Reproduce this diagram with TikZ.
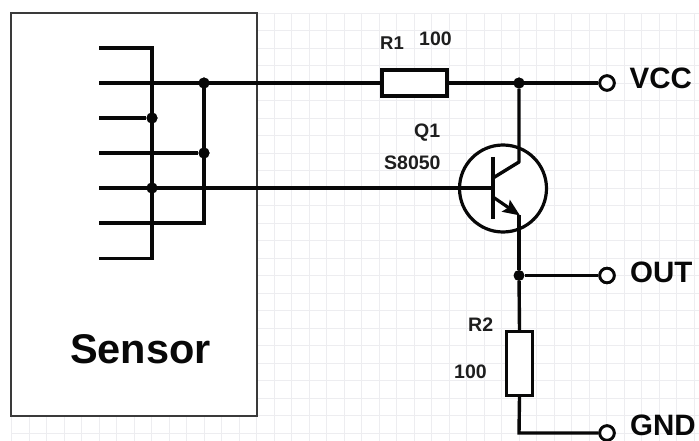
\documentclass[tikz,border=0pt]{standalone}
\usepackage{fontspec}
\setmainfont{Liberation Sans}
\usetikzlibrary{arrows.meta}
\definecolor{wirecol}{HTML}{080808}
\definecolor{gridcol}{HTML}{EDEDF0}
\definecolor{boxcol}{HTML}{3A3A3A}
\definecolor{labelcol}{HTML}{1E1E1E}
\tikzset{
  wire/.style={draw=wirecol,line width=3.4pt},
  junction/.style={circle,fill=wirecol,inner sep=0pt,minimum size=11pt},
  terminal/.style={circle,draw=wirecol,line width=2.8pt,fill=white,inner sep=0pt,minimum size=14.5pt},
  resistor/.style={rectangle,draw=wirecol,line width=3.2pt,fill=white,inner sep=0pt},
  biglabel/.style={anchor=base west,inner sep=0pt,text=wirecol,font=\fontsize{29.5}{29.5}\selectfont\bfseries},
  smalllabel/.style={anchor=base west,inner sep=0pt,text=labelcol,font=\fontsize{19.5}{19.5}\selectfont\bfseries},
}
\begin{document}
\begin{tikzpicture}[x=1pt,y=-1pt]
\useasboundingbox (0,0) rectangle (699,441);
\fill[white] (0,0) rectangle (699,441);
% background grid
\foreach \k in {0,...,39} \draw[gridcol,line width=0.8pt] ({11.5+17.5*\k},13) -- ({11.5+17.5*\k},441);
\foreach \k in {0,...,24} \draw[gridcol,line width=0.8pt] (11.5,{13+17.5*\k}) -- (699,{13+17.5*\k});
% sensor block
\node[rectangle,draw=boxcol,line width=2pt,fill=white,inner sep=0pt,outer sep=0pt,minimum width=245.4pt,minimum height=403pt,anchor=north west] (sensor) at (11.3,13.3) {};
\node[anchor=base west,inner sep=0pt,text=wirecol,font=\fontsize{41.5}{41.5}\selectfont\bfseries] (sensorlabel) at (70,363.5) {Sensor};
% stub ends
\foreach \n/\y in {a/48,b/83,c/118,d/153,e/188,f/223,g/258.5} \coordinate (s\n) at (99,\y);
\coordinate (busT) at (152,48);
\coordinate (busB) at (152,258.5);
\coordinate (bus2T) at (204,83);
\coordinate (bus2B) at (204,223);
% junctions
\node[junction] (j1) at (152,118) {};
\node[junction] (j2) at (152,188) {};
\node[junction] (j3) at (204,83) {};
\node[junction] (j4) at (204,153) {};
\node[junction] (j5) at (519,83) {};
\node[junction] (j6) at (519,275.5) {};
% parts
\node[resistor,minimum width=65pt,minimum height=26pt] (R1) at (414.5,83) {};
\node[resistor,minimum width=25.5pt,minimum height=64pt] (R2) at (519.5,363.5) {};
\node[circle,draw=wirecol,line width=3.2pt,fill=white,inner sep=0pt,minimum size=87pt] (Q) at (503,188.5) {};
\node[terminal] (tV) at (607,83) {};
\node[terminal] (tO) at (607,275.5) {};
\node[terminal] (tG) at (607,433) {};
% transistor inner
\coordinate (barT) at (493,157);
\coordinate (barB) at (493,219);
\coordinate (bC) at (493,178);
\coordinate (bB) at (493,188);
\coordinate (bE) at (493,197);
\coordinate (cK) at (519,162);
\coordinate (eK) at (520,215.5);
\coordinate (gndK) at (519,433);
% wires
\draw[wire] (sa) -- (busT) -- (busB) -- (sg);
\draw[wire] (sb) -- (R1.west);
\draw[wire] (R1.east) -- (tV.west);
\draw[wire] (sc) -- (j1);
\draw[wire] (sd) -- (j4);
\draw[wire] (se) -- (bB);
\draw[wire] (sf) -- (bus2B) -- (bus2T);
\node[junction] at (j1) {};
\node[junction] at (j2) {};
\node[junction] at (j3) {};
\node[junction] at (j4) {};
\node[junction] at (j5) {};
\draw[wire] (barT) -- (barB);
\draw[wire,line join=round] (bC) -- (cK) -- (j5);
\draw[draw=wirecol,line width=3.2pt,-{Stealth[length=17pt,width=14pt,inset=3pt]}] (bE) -- (eK);
\draw[wire] (519,215) -- (j6);
\draw[wire] (j6) -- (R2.north);
\draw[wire] (j6) -- (tO.west);
\draw[wire,line join=miter] (R2.south) -- (gndK) -- (tG.west);
\node[terminal] at (tV) {};
\node[terminal] at (tO) {};
\node[terminal] at (tG) {};
% labels
\node[biglabel] (lV) at (629.5,89) {VCC};
\node[biglabel] (lO) at (630,282) {OUT};
\node[biglabel] (lG) at (630,435) {GND};
\node[smalllabel,font=\fontsize{18.5}{18.5}\selectfont\bfseries] (lR1) at (380,50) {R1};
\node[smalllabel] (lR1v) at (419,46) {100};
\node[smalllabel] (lQ) at (414,138) {Q1};
\node[smalllabel] (lS) at (384,169) {S8050};
\node[smalllabel] (lR2) at (468,331) {R2};
\node[smalllabel] (lR2v) at (454,378) {100};
\end{tikzpicture}
\end{document}
